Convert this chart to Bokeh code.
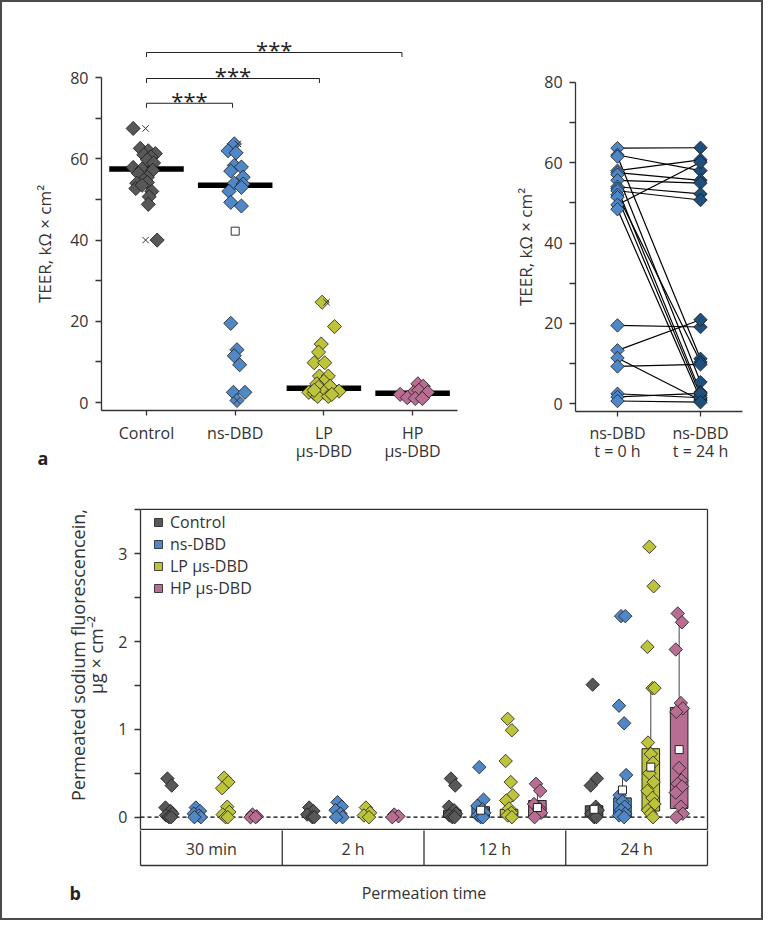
import numpy as np
from bokeh.plotting import figure
from bokeh.models import Range1d, FixedTicker, Legend, LegendItem
from bokeh.layouts import column, row
from bokeh.embed import file_html
from bokeh.resources import INLINE
from bokeh.core.properties import value

FONT = "Open Sans"
INK = "#333333"

# ---------------- data: panel a, TEER per group ----------------
teer_groups = ["Control", "ns-DBD", "LP\nµs-DBD", "HP\nµs-DBD"]
teer_control = [67.5, 62.6, 62.0, 61.3, 61.0, 60.5, 59.8, 59.0, 57.9, 57.5, 57.2,
                56.4, 55.5, 54.8, 54.0, 54.2, 52.7, 53.5, 52.0, 50.7, 48.8, 40.0]
teer_control_jit = [-0.15, -0.07, 0.02, 0.10, -0.03, 0.05, 0.01, 0.08, -0.15, -0.05, 0.07,
                    -0.09, 0.01, -0.03, -0.11, 0.01, -0.12, -0.05, 0.06, 0.03, 0.02, 0.12]
teer_ns = [63.7, 62.0, 61.5, 58.4, 58.0, 57.0, 55.5, 54.0, 53.8, 53.0, 52.0, 49.3, 48.4,
           19.5, 13.0, 11.5, 9.3, 2.5, 2.5, 0.5]
teer_ns_jit = [-0.01, -0.08, 0.01, -0.01, 0.07, -0.05, 0.09, -0.01, 0.09, 0.07, -0.07, -0.05, 0.07,
               -0.05, 0.02, -0.01, 0.05, -0.02, 0.11, 0.02]
teer_lp = [24.7, 18.7, 14.4, 12.4, 9.8, 9.8, 6.5, 6.5, 5.2, 4.6, 3.8, 4.0, 2.8, 2.5, 2.5,
           2.2, 1.5, 1.5, 2.0, 3.0]
teer_lp_jit = [-0.02, 0.12, -0.03, -0.06, -0.11, 0.01, -0.05, 0.05, 0.0, -0.08, -0.06, 0.07,
               0.17, -0.17, 0.0, -0.11, -0.07, 0.05, 0.09, -0.11]
teer_hp = [4.6, 4.0, 2.5, 2.0, 1.2, 2.2, 3.0, 2.5, 1.0, 1.0]
teer_hp_jit = [0.06, 0.12, 0.01, -0.14, -0.06, 0.09, 0.07, 0.17, 0.03, 0.11]
teer_median = [57.5, 53.5, 3.5, 2.3]
# min/max crosses and mean (open square)
teer_cross_group = [1, 1, 2, 2, 3]
teer_cross_val = [67.5, 40.0, 63.7, 0.5, 24.7]
teer_cross_jit = [-0.01, -0.01, 0.03, 0.02, 0.03]
teer_mean_group = [2]
teer_mean_val = [42.2]
# significance brackets
sig_from = [1.0, 1.0, 1.0]
sig_to = [1.97, 2.95, 3.88]
sig_y = [73.7, 79.8, 86.2]
sig_text = ["***", "***", "***"]

# ---------------- data: panel a, paired ns-DBD ----------------
pair_labels = ["ns-DBD\nt = 0 h", "ns-DBD\nt = 24 h"]
pair_t0 = [63.6, 61.9, 61.5, 58.0, 57.5, 57.0, 55.6, 54.0, 53.5, 53.0, 52.0, 51.4, 49.5, 48.4,
           19.5, 13.3, 11.4, 9.3, 2.5, 1.7, 0.7]
pair_t24 = [63.7, 58.0, 11.2, 60.7, 55.6, 5.4, 54.9, 52.2, 2.9, 50.7, 10.4, 2.1, 60.1, 1.2,
            19.1, 20.9, 0.9, 9.8, 1.5, 2.6, 0.4]

# ---------------- data: panel b, permeated fluorescein ----------------
perm_times = ["30 min", "2 h", "12 h", "24 h"]
perm_series = ["Control", "ns-DBD", "LP µs-DBD", "HP µs-DBD"]
perm_control = [[0.44, 0.36, 0.11, 0.07, 0.04, 0.02, 0.0, 0.0],
                [0.11, 0.07, 0.03, 0.0, 0.0],
                [0.44, 0.36, 0.12, 0.08, 0.04, 0.02, 0.0, 0.0],
                [1.51, 0.44, 0.36, 0.12, 0.08, 0.04, 0.0, 0.0]]
perm_ns = [[0.11, 0.07, 0.04, 0.02, 0.0, 0.0],
           [0.17, 0.12, 0.08, 0.04, 0.0, 0.0],
           [0.57, 0.20, 0.13, 0.09, 0.05, 0.02, 0.0, 0.0],
           [2.29, 2.29, 1.27, 1.07, 0.48, 0.25, 0.18, 0.12, 0.08, 0.04, 0.02, 0.0]]
perm_lp = [[0.45, 0.40, 0.33, 0.12, 0.06, 0.03, 0.0, 0.0],
           [0.11, 0.05, 0.02, 0.0],
           [1.12, 0.99, 0.64, 0.40, 0.25, 0.19, 0.10, 0.05, 0.02, 0.0],
           [3.08, 2.63, 1.94, 1.47, 1.47, 0.85, 0.72, 0.62, 0.50, 0.40, 0.30, 0.22, 0.15, 0.08, 0.04, 0.0]]
perm_hp = [[0.03, 0.01, 0.0, 0.0],
           [0.03, 0.01, 0.0],
           [0.38, 0.30, 0.15, 0.10, 0.05, 0.0],
           [2.32, 2.22, 1.91, 1.30, 1.24, 1.20, 0.56, 0.42, 0.38, 0.35, 0.28, 0.12, 0.04, 0.0]]
# box summaries (time index, series index)
box_time = [2, 2, 2, 2, 3, 3, 3, 3]
box_series = [0, 1, 2, 3, 0, 1, 2, 3]
box_q1 = [0.0, 0.0, 0.0, 0.0, 0.0, 0.0, 0.07, 0.10]
box_q3 = [0.08, 0.12, 0.09, 0.19, 0.13, 0.22, 0.78, 1.25]
box_lo = [0.0, 0.0, 0.0, 0.0, 0.0, 0.0, 0.0, 0.0]
box_hi = [0.11, 0.20, 0.25, 0.30, 0.13, 0.48, 1.47, 2.22]
box_mean = [np.nan, 0.08, np.nan, 0.11, 0.09, 0.31, 0.57, 0.77]

C_CTRL = "#585858"
C_NS = "#4f87c7"
C_LP = "#bdc43b"
C_HP = "#b86d92"
C_T24 = "#1f4f7d"
SER_COLORS = [C_CTRL, C_NS, C_LP, C_HP]
EDGE = "#1a1a1a"
ANG = np.pi / 4
FS = "16px"


def style(p, label_fs="17px", label_lh=0.83):
    p.outline_line_color = None
    p.grid.visible = False
    p.background_fill_color = "white"
    for ax in p.axis:
        ax.axis_line_color = INK
        ax.axis_line_width = 1.3
        ax.major_tick_line_color = INK
        ax.major_tick_line_width = 1.3
        ax.minor_tick_line_color = INK
        ax.minor_tick_line_width = 1.3
        ax.major_tick_in = 0
        ax.minor_tick_in = 0
        ax.major_tick_out = 6
        ax.minor_tick_out = 6
        ax.major_label_text_font = FONT
        ax.major_label_text_font_size = FS
        ax.major_label_text_color = INK
        ax.major_label_text_line_height = 0.83
        ax.axis_label_text_font = FONT
        ax.axis_label_text_font_size = label_fs
        ax.axis_label_text_font_style = "normal"
        ax.axis_label_text_color = INK
        ax.axis_label_text_line_height = label_lh


# ================= panel a (left) =================
# frame covers the whole figure, axes pinned at the data edges
AX0, AX1, AY0 = 0.4927, 4.506, -1.97
fa = figure(width=505, height=478, output_backend="svg", toolbar_location=None,
            x_range=Range1d(-0.6234, 5.070), y_range=Range1d(-19.21, 98.52),
            min_border_left=0, min_border_right=0, min_border_top=0, min_border_bottom=0)
style(fa)
fa.xaxis.fixed_location = AY0
fa.xaxis.bounds = (AX0, AX1)
fa.xaxis.ticker = FixedTicker(ticks=[1, 2, 3, 4])
fa.xaxis.major_label_overrides = {i + 1: lab for i, lab in enumerate(teer_groups)}
fa.xaxis.minor_tick_line_color = None
fa.xaxis.major_tick_out = 5
fa.xaxis.major_label_standoff = 6
fa.yaxis.fixed_location = AX0
fa.yaxis.bounds = (AY0, 80)
fa.yaxis.ticker = FixedTicker(ticks=[0, 20, 40, 60, 80], minor_ticks=[10, 30, 50, 70])
fa.yaxis.major_label_standoff = 7
fa.yaxis.axis_label = "TEER, kΩ × cm²"
fa.yaxis.axis_label_standoff = 11

gx = [1, 2, 3, 4]
fa.segment(x0=[g - 0.42 for g in gx], y0=teer_median, x1=[g + 0.42 for g in gx], y1=teer_median,
           line_color="black", line_width=5.5)
for g, vals, jit, col in [(1, teer_control, teer_control_jit, C_CTRL), (2, teer_ns, teer_ns_jit, C_NS),
                          (3, teer_lp, teer_lp_jit, C_LP), (4, teer_hp, teer_hp_jit, C_HP)]:
    fa.scatter(x=[g + j for j in jit], y=vals, marker="square", angle=ANG, size=10,
               fill_color=col, line_color=EDGE, line_width=0.8)
fa.scatter(x=[g + j for g, j in zip(teer_cross_group, teer_cross_jit)], y=teer_cross_val,
           marker="x", size=9, line_color=INK, line_width=1)
fa.scatter(x=teer_mean_group, y=teer_mean_val, marker="square", size=8,
           fill_color="white", line_color=INK, line_width=1)
tick_h = 1.1
fa.segment(x0=sig_from, y0=sig_y, x1=sig_to, y1=sig_y, line_color="#222222", line_width=1)
fa.segment(x0=sig_from, y0=sig_y, x1=sig_from, y1=[y - tick_h for y in sig_y], line_color="#222222", line_width=1)
fa.segment(x0=sig_to, y0=sig_y, x1=sig_to, y1=[y - tick_h for y in sig_y], line_color="#222222", line_width=1)
fa.text(x=[(a + b) / 2 for a, b in zip(sig_from, sig_to)], y=[y + 0.9 for y in sig_y], text=sig_text,
        text_align="center", text_baseline="middle", text_font=value(FONT),
        text_font_size="22px", text_color="#222222")
fa.text(x=[-0.229], y=[-13.55], text=["a"], text_align="left", text_baseline="alphabetic",
        text_font=value(FONT), text_font_size="18px", text_font_style="bold", text_color="#222222")

# ================= panel a (right) =================
BX0, BX1, BY0 = 0.495, 2.505, -1.84
fa2 = figure(width=254, height=478, output_backend="svg", toolbar_location=None,
             x_range=Range1d(-0.3253, 2.735), y_range=Range1d(-19.08, 99.83),
             min_border_left=0, min_border_right=0, min_border_top=0, min_border_bottom=0)
style(fa2)
fa2.xaxis.fixed_location = BY0
fa2.xaxis.bounds = (BX0, BX1)
fa2.xaxis.ticker = FixedTicker(ticks=[1, 2])
fa2.xaxis.major_label_overrides = {1: pair_labels[0], 2: pair_labels[1]}
fa2.xaxis.minor_tick_line_color = None
fa2.xaxis.major_tick_out = 5
fa2.xaxis.major_label_standoff = 6
fa2.yaxis.fixed_location = BX0
fa2.yaxis.bounds = (BY0, 80)
fa2.yaxis.ticker = FixedTicker(ticks=[0, 20, 40, 60, 80], minor_ticks=[10, 30, 50, 70])
fa2.yaxis.major_label_standoff = 7
fa2.yaxis.axis_label = "TEER, kΩ × cm²"
fa2.yaxis.axis_label_standoff = 4

n = len(pair_t0)
fa2.segment(x0=[1] * n, y0=pair_t0, x1=[2] * n, y1=pair_t24, line_color="black", line_width=1.2)
fa2.scatter(x=[1] * n, y=pair_t0, marker="square", angle=ANG, size=9.5,
            fill_color=C_NS, line_color=EDGE, line_width=0.8)
fa2.scatter(x=[2] * n, y=pair_t24, marker="square", angle=ANG, size=9.5,
            fill_color=C_T24, line_color=EDGE, line_width=0.8)

# ================= panel b =================
GW = 5.0
nt = len(perm_times)
XB = (-138 / 28.35, (759 - 138) / 28.35)   # shared x scale of panel b and its table
YB = (-0.1515, 3.835)
Y0B, Y1B = -0.14, 3.505                     # plotting box of panel b
fb = figure(width=759, height=350, output_backend="svg", toolbar_location=None,
            x_range=Range1d(*XB), y_range=Range1d(*YB),
            min_border_left=0, min_border_right=0, min_border_top=0, min_border_bottom=0,
            x_axis_location=None)
style(fb, label_fs="18px", label_lh=0.78)
fb.yaxis.fixed_location = 0
fb.yaxis.bounds = (Y0B, YB[1])
fb.yaxis.axis_line_color = None
fb.yaxis.ticker = FixedTicker(ticks=[0, 1, 2, 3], minor_ticks=[0.5, 1.5, 2.5, 3.5])
fb.yaxis.major_label_standoff = 7
fb.yaxis.axis_label = "Permeated sodium fluorescencein,\nµg × cm⁻²"
fb.yaxis.axis_label_standoff = 7

# plotting box (top, right, bottom, left)
fb.segment(x0=[0, nt * GW, 0, 0], y0=[Y1B, Y0B, Y0B, Y0B],
           x1=[nt * GW, nt * GW, nt * GW, 0], y1=[Y1B, Y1B, Y0B, Y1B],
           line_color=INK, line_width=1.3)
fb.segment(x0=[0], y0=[0], x1=[nt * GW], y1=[0], line_color="black", line_width=1.3, line_dash="4 3")


def cx(t, s):
    return t * GW + GW / 2 + (s - 1.5)


bw = 0.31
bx = [cx(t, s) for t, s in zip(box_time, box_series)]
fb.segment(x0=bx, y0=box_q3, x1=bx, y1=box_hi, line_color="#444444", line_width=1)
fb.segment(x0=bx, y0=box_q1, x1=bx, y1=box_lo, line_color="#444444", line_width=1)
fb.quad(left=[x - bw for x in bx], right=[x + bw for x in bx], bottom=box_q1, top=box_q3,
        fill_color=[SER_COLORS[s] for s in box_series], line_color="#222222", line_width=1)

JIT = [-0.05, 0.1, -0.12, 0.06, 0.13, -0.1, 0.0, 0.08]
renderers = []
for s, data in enumerate([perm_control, perm_ns, perm_lp, perm_hp]):
    xs, ys = [], []
    for t, vals in enumerate(data):
        for k, v in enumerate(vals):
            xs.append(cx(t, s) + JIT[k % len(JIT)])
            ys.append(v)
    r = fb.scatter(x=xs, y=ys, marker="square", angle=ANG, size=9.5,
                   fill_color=SER_COLORS[s], line_color=EDGE, line_width=0.8)
    renderers.append(r)

mx = [x for x, m in zip(bx, box_mean) if not np.isnan(m)]
my = [m for m in box_mean if not np.isnan(m)]
fb.scatter(x=mx, y=my, marker="square", size=8, fill_color="white", line_color="#222222", line_width=1)

legend = Legend(items=[LegendItem(label=name, renderers=[r]) for name, r in zip(perm_series, renderers)],
                location=(146, 231), border_line_color=None, background_fill_alpha=0,
                padding=5, margin=0, spacing=-2, glyph_width=20, glyph_height=20,
                label_standoff=2, label_height=18, label_text_font=FONT,
                label_text_font_size=FS, label_text_line_height=0.9, label_text_color=INK)
fb.add_layout(legend)

# ---- category table and captions under panel b (same x scale as panel b) ----
fbt = figure(width=759, height=88, output_backend="svg", toolbar_location=None,
             x_range=Range1d(*XB), y_range=Range1d(88, 0),
             x_axis_location=None, y_axis_location=None,
             min_border_left=0, min_border_right=0, min_border_top=0, min_border_bottom=0)
fbt.outline_line_color = None
fbt.grid.visible = False
TB = 35
edges = [GW * k for k in range(nt + 1)]
fbt.segment(x0=edges, y0=[-1] * len(edges), x1=edges, y1=[TB] * len(edges), line_color=INK, line_width=1.3)
fbt.segment(x0=[0], y0=[TB], x1=[nt * GW], y1=[TB], line_color=INK, line_width=1.3)
fbt.text(x=[GW * k + GW / 2 for k in range(nt)], y=[TB / 2 + 1] * nt, text=perm_times,
         text_align="center", text_baseline="middle", text_font=value(FONT),
         text_font_size=FS, text_color=INK)
fbt.text(x=[nt * GW / 2], y=[62], text=["Permeation time"], text_align="center",
         text_baseline="alphabetic", text_font=value(FONT), text_font_size=FS, text_color=INK)
fbt.text(x=[(69 - 140) / 28.35], y=[62], text=["b"], text_align="left", text_baseline="alphabetic",
         text_font=value(FONT), text_font_size="18px", text_font_style="bold", text_color="#222222")

layout = column(row(fa, fa2), fb, fbt, styles={"border": "2px solid #4a4a4a"})
open("out.html", "w").write(file_html(layout, INLINE))
